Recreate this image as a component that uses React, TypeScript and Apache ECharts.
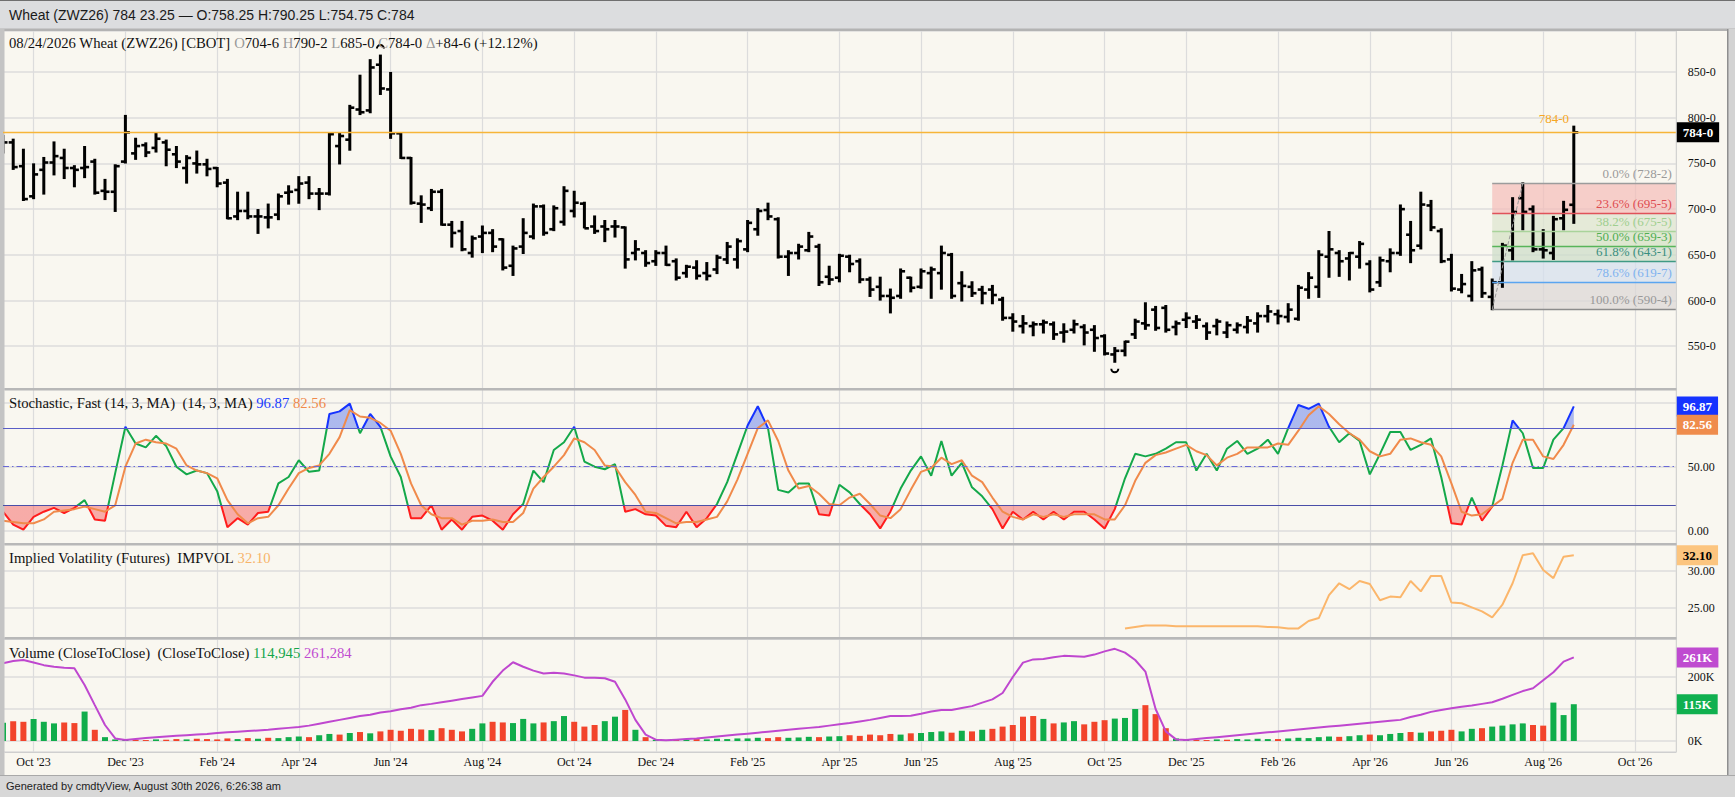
import React, { useEffect, useRef } from "react";
import * as echarts from "echarts";

// ---------- axis / categories ----------
const N_CATS = 165; // weekly slots shown on the axis (data + empty right margin)
const TICK_IDX = [3, 12, 21, 29, 38, 47, 56, 64, 73, 82, 90, 99, 108, 116, 125, 134, 142, 151, 160];
const TICK_LABELS = ["Oct '23", "Dec '23", "Feb '24", "Apr '24", "Jun '24", "Aug '24", "Oct '24", "Dec '24", "Feb '25", "Apr '25", "Jun '25", "Aug '25", "Oct '25", "Dec '25", "Feb '26", "Apr '26", "Jun '26", "Aug '26", "Oct '26"];

// ---------- weekly OHLC ----------
const OPEN = [
  770, 773, 747, 714, 743, 751, 756, 745, 745, 752,
  720, 719, 752, 761, 770, 767, 773, 760, 745, 750,
  749, 745, 729, 692, 698, 692, 691, 694, 718, 721,
  729, 717, 717, 769, 776, 809, 808, 858, 831, 783,
  756, 706, 701, 719, 683, 676, 652, 670, 674, 667,
  638, 659, 670, 703, 678, 686, 698, 706, 681, 681,
  681, 680, 652, 652, 643, 652, 643, 630, 636, 630,
  634, 645, 645, 656, 678, 699, 689, 648, 652, 655,
  659, 626, 625, 648, 643, 623, 615, 605, 605, 625,
  615, 630, 630, 650, 619, 615, 612, 612, 601, 581,
  572, 572, 574, 574, 565, 568, 571, 568, 561, 541,
  545, 563, 575, 590, 592, 571, 579, 577, 572, 572,
  565, 568, 571, 575, 583, 585, 582, 580, 612, 615,
  648, 652, 646, 648, 640, 620, 643, 652, 672, 660,
  704, 676, 645, 612, 605, 634, 604, 620, 655, 712,
  700, 656, 652, 690, 704.75,
];
const HIGH = [
  780, 776, 765, 749, 756, 773, 765, 747, 768, 754,
  732, 748, 802, 777, 772, 783, 775, 768, 758, 763,
  754, 745, 732, 718, 718, 699, 705, 716, 725, 735,
  735, 722, 783, 783, 813, 846, 863, 868, 849, 783,
  756, 714, 721, 721, 686, 686, 670, 681, 677, 667,
  659, 689, 705, 704, 703, 724, 719, 707, 692, 687,
  687, 680, 665, 654, 654, 659, 645, 638, 643, 641,
  649, 663, 667, 687, 700, 706, 690, 654, 661, 674,
  661, 637, 650, 649, 645, 625, 625, 612, 634, 625,
  634, 636, 659, 651, 631, 620, 615, 616, 603, 585,
  583, 576, 578, 576, 574, 578, 573, 572, 562, 548,
  555, 579, 597, 593, 594, 577, 586, 583, 575, 579,
  576, 575, 582, 586, 594, 589, 596, 616, 630, 654,
  675, 654, 652, 664, 643, 647, 656, 704, 686, 718,
  709, 678, 650, 628, 642, 636, 623, 662, 712, 728.25,
  703, 677, 691.5, 708, 790.25,
];
const LOW = [
  762, 744, 710, 712, 717, 738, 734, 725, 735, 717,
  711, 698, 751, 755, 758, 763, 748, 746, 729, 740,
  737, 725, 690, 689, 690, 674, 680, 689, 706, 707,
  712, 700, 716, 750, 765, 804, 806, 826, 778, 756,
  706, 686, 699, 683, 659, 655, 648, 653, 654, 634,
  628, 652, 668, 672, 677, 683, 692, 680, 674, 665,
  670, 636, 645, 638, 639, 639, 623, 626, 624, 623,
  630, 641, 636, 654, 672, 689, 647, 628, 646, 654,
  617, 618, 621, 632, 620, 605, 601, 587, 603, 610,
  614, 603, 613, 603, 600, 605, 597, 597, 579, 567,
  565, 562, 565, 558, 555, 565, 552, 545, 541, 533,
  540, 559, 569, 568, 566, 563, 571, 570, 558, 563,
  560, 565, 565, 566, 577, 575, 577, 579, 603, 604,
  626, 627, 623, 636, 610, 616, 632, 650, 642, 657,
  677, 642, 611, 609, 600, 604, 590.5, 615, 645, 678,
  654, 647, 645.5, 678, 685,
];
const CLOSE = [
  773, 746, 711, 738, 751, 758, 745, 743, 746, 718,
  719, 747, 784, 769, 762, 777, 765, 752, 756, 749,
  744, 728, 690, 698, 692, 692, 691, 714, 719, 728,
  717, 717, 782, 780, 811, 806, 855, 832, 783, 756,
  707, 705, 719, 683, 674, 656, 668, 674, 659, 636,
  657, 674, 703, 674, 701, 720, 707, 679, 676, 678,
  681, 645, 656, 641, 652, 639, 625, 637, 627, 627,
  647, 659, 665, 685, 698, 692, 648, 652, 659, 670,
  620, 623, 649, 640, 623, 612, 605, 603, 632, 614,
  632, 634, 652, 605, 616, 608, 608, 606, 581, 577,
  575, 574, 576, 563, 566, 574, 565, 559, 542, 545,
  555, 577, 573, 570, 568, 575, 581, 579, 565, 577,
  573, 573, 578, 583, 588, 583, 590, 614, 625, 650,
  656, 643, 652, 662, 612, 644, 652, 700, 655, 705,
  680, 643, 613, 618, 633, 608, 620, 660, 697, 697,
  656, 655, 689, 699.25, 784,
];

// ---------- Stochastic fast (14,3,MA) ----------
const STOCH_K = [
  15, 5, 1, 11, 15, 18, 14, 18, 24, 9,
  8, 45, 81, 68, 65, 74, 66, 50, 44, 47,
  45, 31, 3, 10, 5, 14, 15, 37, 42, 55,
  46, 47, 91, 93, 99, 76, 91, 81, 58, 42,
  10, 10, 20, 1, 9, 1, 11, 12, 8, 1,
  13, 21, 47, 38, 63, 69, 81, 54, 50, 48,
  52, 15, 17, 13, 12, 4, 3, 15, 3, 10,
  21, 38, 60, 82, 97, 80, 32, 30, 37, 37,
  13, 12, 36, 30, 21, 13, 2, 15, 33, 47,
  58, 43, 70, 43, 53, 34, 27, 17, 2, 15,
  9, 15, 9, 15, 9, 15, 15, 9, 2, 17,
  41, 60, 58, 60, 64, 69, 69, 47, 60, 47,
  64, 70, 60, 64, 71, 60, 80, 98, 95, 99,
  81, 69, 76, 70, 44, 60, 77, 77, 63, 67,
  72, 42, 6, 5, 26, 8, 19, 51, 86, 76,
  49, 49, 71, 80, 96.87,
];
const STOCH_D = [
  8, 7, 6, 6, 9, 15, 16, 17, 19, 17,
  15, 20, 50, 68, 71, 69, 68, 64, 51, 47,
  45, 41, 24, 13, 6, 10, 11, 20, 33, 45,
  49, 51, 60, 73, 94, 89, 88, 84, 78, 60,
  37, 20, 13, 10, 10, 5, 8, 8, 9, 7,
  7, 14, 33, 42, 50, 59, 72, 69, 63, 51,
  50, 38, 28, 15, 14, 10, 6, 7, 7, 9,
  11, 23, 40, 60, 80, 86, 70, 47, 33, 35,
  29, 21, 20, 26, 29, 21, 12, 10, 17, 32,
  46, 49, 57, 52, 55, 43, 38, 26, 15, 11,
  9, 13, 11, 13, 11, 13, 13, 13, 9, 9,
  20, 39, 53, 59, 61, 64, 67, 62, 59, 51,
  57, 60, 65, 65, 65, 68, 67, 78, 90, 97,
  91, 83, 76, 71, 62, 58, 60, 71, 72, 69,
  67, 58, 37, 15, 12, 13, 19, 25, 53, 71,
  71, 58, 56, 67, 82.56,
];
const STOCH_UPPER = 80;
const STOCH_LOWER = 20;
const STOCH_MID = 50;

// ---------- Implied volatility (starts at week index IV_START) ----------
const IV_START = 110;
const IMPVOL = [
  22.2, 22.4, 22.6, 22.6, 22.6, 22.5, 22.5, 22.5, 22.5, 22.5,
  22.5, 22.5, 22.5, 22.5, 22.4, 22.35, 22.2, 22.2, 23.2, 23.6,
  26.7, 28.3, 27.5, 28.6, 28.2, 26.0, 26.5, 26.4, 28.6, 27.2,
  29.3, 29.3, 25.7, 25.6, 25.05, 24.5, 23.7, 25.4, 28.3, 32.1,
  32.35, 30.1, 29.0, 31.9, 32.1,
];

// ---------- Volume & open interest (thousands) ----------
const VOLUME_K = [
  57, 62, 60, 69, 60, 55, 58, 56, 92, 35,
  12, 5, 3, 4, 3, 5, 4, 6, 5, 7,
  6, 5, 8, 6, 9, 7, 10, 9, 12, 14,
  12, 18, 22, 20, 25, 28, 24, 30, 35, 32,
  38, 36, 34, 40, 35, 30, 38, 55, 60, 58,
  56, 69, 55, 58, 62, 78, 60, 45, 50, 62,
  76, 97, 35, 12, 4, 3, 5, 4, 6, 5,
  7, 6, 8, 8, 10, 9, 12, 10, 11, 13,
  12, 14, 15, 18, 16, 20, 18, 22, 20, 24,
  25, 28, 30, 26, 32, 30, 35, 38, 45, 50,
  76, 78, 69, 55, 58, 62, 52, 60, 65, 70,
  72, 100, 112, 84, 40, 8, 3, 4, 3, 5,
  4, 6, 5, 7, 6, 6, 8, 10, 9, 12,
  14, 13, 15, 18, 20, 18, 22, 25, 28, 26,
  30, 32, 35, 30, 38, 40, 45, 48, 52, 55,
  50, 48, 120, 81, 114.945,
];
const OPEN_INT_K = [
  243, 250, 253, 245, 237, 232, 229, 227, 175, 112,
  50, 8, 3, 6, 9, 12, 14, 16, 18, 20,
  22, 25, 27, 29, 31, 33, 35, 38, 41, 44,
  48, 54, 60, 66, 72, 78, 82, 89, 93, 99,
  104, 112, 116, 121, 126, 131, 136, 141, 185, 220,
  246, 232, 220, 211, 213, 211, 205, 198, 198, 196,
  185, 130, 66, 20, 4, 2, 4, 6, 8, 11,
  14, 17, 20, 23, 26, 29, 32, 35, 38, 41,
  44, 48, 52, 56, 61, 66, 72, 78, 78, 79,
  85, 92, 97, 97, 103, 109, 120, 130, 150, 200,
  245, 255, 256, 262, 266, 265, 263, 270, 280, 288,
  276, 253, 217, 100, 30, 5, 3, 6, 9, 12,
  15, 18, 21, 24, 27, 30, 33, 36, 39, 42,
  45, 48, 51, 54, 57, 60, 63, 66, 75, 82,
  91, 97, 102, 107, 111, 116, 121, 132, 144, 156,
  165, 190, 215, 248, 261.284,
];

// ---------- Fibonacci retracement ----------
const FIB_START_IDX = 146;
const FIB_TOP_IDX = 149;
const FIB_PCT = ["0.0%", "23.6%", "38.2%", "50.0%", "61.8%", "78.6%", "100.0%"];
const FIB_VAL = [728.25, 695.625, 675.625, 659.375, 643.125, 619.875, 590.5];
const FIB_TXT = ["728-2", "695-5", "675-5", "659-3", "643-1", "619-7", "590-4"];
const FIB_LINE_COLOR = ["#9c9c9c", "#e0525a", "#a9d39a", "#58b55a", "#3f9a84", "#5aa5f0", "#8c8c8c"];
const FIB_LABEL_COLOR = ["#9a9a9a", "#dd4b50", "#9fcf8f", "#4fae52", "#3a8f80", "#7fb3ee", "#999999"];
const FIB_ZONE_COLOR = [
  "rgba(244,190,186,0.72)",
  "rgba(221,230,208,0.75)",
  "rgba(212,226,197,0.75)",
  "rgba(205,222,201,0.75)",
  "rgba(214,224,237,0.75)",
  "rgba(220,216,215,0.75)",
];

const LAST_PRICE = 784;

// ---------- styling ----------
const SERIF = '"Liberation Serif", "Times New Roman", Times, serif';
const SANS = '"Liberation Sans", Arial, Helvetica, sans-serif';
const UP = "#10ad4b";
const DOWN = "#f2442b";
const GRID_COLOR = "#dcdcdc";
const LEGEND_SIZE = 14.7;

function fmt8(v: number): string {
  const w = Math.floor(v + 1e-9);
  return `${w}-${Math.round((v - w) * 8)}`;
}

function buildOption(): any {
  const n = OPEN.length;
  const CATS = Array.from({ length: N_CATS }, (_, i) =>
    new Date(Date.UTC(2023, 8, 11 + 7 * i)).toISOString().slice(0, 10)
  );
  const ohlc = OPEN.map((o, i) => [i, o, HIGH[i], LOW[i], CLOSE[i]]);
  const hiIdx = HIGH.indexOf(Math.max(...HIGH));
  const loIdx = LOW.indexOf(Math.min(...LOW));
  const ivData = CATS.map((_, i) => (i >= IV_START && i - IV_START < IMPVOL.length ? IMPVOL[i - IV_START] : null));
  const volData = VOLUME_K.map((v, i) => ({
    value: v,
    itemStyle: { color: (i === 0 ? CLOSE[0] >= OPEN[0] : CLOSE[i] >= CLOSE[i - 1]) ? UP : DOWN },
  }));

  const lastK = STOCH_K[n - 1];
  const lastD = STOCH_D[n - 1];
  const lastIV = IMPVOL[IMPVOL.length - 1];
  const lastVol = VOLUME_K[n - 1];
  const lastOI = OPEN_INT_K[n - 1];
  const chg = CLOSE[n - 1] - CLOSE[n - 2];
  const chgPct = (chg / CLOSE[n - 2]) * 100;

  const GRIDS = [
    { top: 31, height: 358, min: 503.2, max: 894.9, split: 8 },
    { top: 389, height: 155, min: -10.1, max: 110.4, split: 2 },
    { top: 544, height: 94.3, min: 20.86, max: 33.61, split: 3 },
    { top: 638.3, height: 113.7, min: -34.4, max: 320.9, split: 4 },
  ];

  const boxLabel = (text: string, bg: string, fg: string) => ({
    show: true,
    position: "end",
    formatter: text,
    backgroundColor: bg,
    color: fg,
    opacity: 1,
    fontFamily: SERIF,
    fontSize: 13,
    fontWeight: "bold",
    lineHeight: 14,
    padding: [3, 6, 3, 6],
    distance: 1,
  });
  const hiddenLine = { color: "rgba(0,0,0,0)", width: 1, type: "solid" };

  const yLabel = (fmt: (v: number) => string) => ({
    show: true,
    formatter: fmt,
    margin: 12,
    fontFamily: SERIF,
    fontSize: 12,
    color: "#111",
    showMinLabel: false,
    showMaxLabel: false,
  });

  const rs = (color: string, size: number) => ({
    color,
    fontFamily: SERIF,
    fontSize: size,
    fontWeight: "normal",
    lineHeight: 16,
  });
  const rich = (size: number) => ({
    k: rs("#111", size),
    g: rs("#9a9a9a", size),
    b: rs("#1a3dff", size),
    o: rs("#f08a4b", size),
    y: rs("#f7b46a", size),
    gr: rs("#13a54a", size),
    p: rs("#c04ad0", size),
  });
  const legendStyle = (size: number) => ({
    fontFamily: SERIF,
    fontSize: size,
    fontWeight: "normal",
    color: "#111",
    rich: rich(size),
  });

  const mainLegend =
    `{k|08/24/2026 Wheat (ZWZ26) [CBOT] }{g|O}{k|${fmt8(OPEN[n - 1])} }{g|H}{k|${fmt8(HIGH[n - 1])} }` +
    `{g|L}{k|${fmt8(LOW[n - 1])} }{g|C}{k|${fmt8(CLOSE[n - 1])} }{g|\u0394}{k|+${fmt8(chg)} (+${chgPct.toFixed(2)}%)}`;

  const fibAreas = FIB_ZONE_COLOR.map((c, z) => [
    { coord: [FIB_START_IDX, FIB_VAL[z]], itemStyle: { color: c } },
    { coord: [N_CATS - 1, FIB_VAL[z + 1]] },
  ]);
  const fibLines = FIB_VAL.map((v, k) => [
    {
      coord: [FIB_START_IDX, v],
      lineStyle: { color: FIB_LINE_COLOR[k], width: 1.3, type: "solid" },
      label: {
        show: true,
        position: "insideEndTop",
        formatter: `${FIB_PCT[k]} (${FIB_TXT[k]})`,
        color: FIB_LABEL_COLOR[k],
        fontFamily: SERIF,
        fontSize: 13,
        distance: [4, 3],
      },
    },
    { coord: [N_CATS - 1, v] },
  ]);

  const xAxes = [0, 1, 2, 3].map((gi) => ({
    type: "category",
    gridIndex: gi,
    data: CATS,
    boundaryGap: false,
    axisLine: { show: false },
    axisTick: { show: false },
    axisPointer: { show: false },
    axisLabel:
      gi === 3
        ? {
            show: true,
            interval: (idx: number) => TICK_IDX.includes(idx),
            formatter: (_v: string, idx: number) => {
              const p = TICK_IDX.indexOf(idx);
              return p >= 0 ? TICK_LABELS[p] : "";
            },
            fontFamily: SERIF,
            fontSize: 12,
            color: "#111",
            margin: 4,
          }
        : { show: false },
    splitLine: {
      show: true,
      interval: (idx: number) => TICK_IDX.includes(idx),
      lineStyle: { color: GRID_COLOR, width: 1.2 },
    },
  }));

  // labels hidden where the reference's value boxes cover them (100.00, 100K, 300K)
  const fmts = [
    (v: number) => `${v}-0`,
    (v: number) => (v < 99 ? v.toFixed(2) : ""),
    (v: number) => v.toFixed(2),
    (v: number) => (v === 0 || v === 200 ? `${v}K` : ""),
  ];
  const yAxes = GRIDS.map((g, gi) => ({
    type: "value",
    gridIndex: gi,
    position: "right",
    min: g.min,
    max: g.max,
    splitNumber: g.split,
    axisLine: { show: false },
    axisTick: { show: false },
    axisLabel: yLabel(fmts[gi]),
    splitLine: {
      show: true,
      lineStyle: {
        color: gi === 3 ? [GRID_COLOR, GRID_COLOR, GRID_COLOR, GRID_COLOR, "rgba(0,0,0,0)", GRID_COLOR] : GRID_COLOR,
        width: 1.6,
      },
    },
  }));

  const frame: any[] = [
    { type: "rect", z: 5, shape: { x: 0, y: 0, width: 1735, height: 29 }, style: { fill: "#dcdddf" } },
    { type: "rect", z: 5, shape: { x: 0, y: 0, width: 1735, height: 1 }, style: { fill: "#6f6f6f" } },
    { type: "rect", z: 5, shape: { x: 0, y: 28.5, width: 1735, height: 2.5 }, style: { fill: "#b3b3b3" } },
    { type: "rect", z: 5, shape: { x: 0, y: 29, width: 4.5, height: 746 }, style: { fill: "#c4c4c4" } },
    { type: "rect", z: 5, shape: { x: 1727, y: 29, width: 8, height: 746 }, style: { fill: "#d3d3d3" } },
    { type: "rect", z: 5, shape: { x: 1727, y: 29, width: 1.5, height: 746 }, style: { fill: "#8f8f8f" } },
    { type: "rect", z: 5, shape: { x: 1675.8, y: 31, width: 1, height: 721 }, style: { fill: "#cacaca" } },
    { type: "rect", z: 5, shape: { x: 4.5, y: 388, width: 1672, height: 2.5 }, style: { fill: "#b8b8b8" } },
    { type: "rect", z: 5, shape: { x: 4.5, y: 543, width: 1672, height: 2.5 }, style: { fill: "#b8b8b8" } },
    { type: "rect", z: 5, shape: { x: 4.5, y: 637, width: 1672, height: 2.5 }, style: { fill: "#b8b8b8" } },
    { type: "rect", z: 5, shape: { x: 4.5, y: 752, width: 1672, height: 1 }, style: { fill: "#cfcfcf" } },
    { type: "rect", z: 5, shape: { x: 0, y: 775, width: 1735, height: 22 }, style: { fill: "#d8d8d8" } },
    { type: "rect", z: 5, shape: { x: 0, y: 775, width: 1735, height: 1 }, style: { fill: "#a9a9a9" } },
  ];

  return {
    animation: false,
    backgroundColor: "#f9f7f0",
    title: [
      {
        text: "Wheat (ZWZ26) 784 23.25 \u2014 O:758.25 H:790.25 L:754.75 C:784",
        left: 9,
        top: 7,
        padding: 0,
        z: 10,
        textStyle: { fontFamily: SANS, fontSize: 14, fontWeight: "normal", color: "#1a1a1a", lineHeight: 16 },
      },
      { text: mainLegend, left: 9, top: 35, padding: 0, z: 10, textStyle: legendStyle(LEGEND_SIZE) },
      {
        text: `{k|Stochastic, Fast (14, 3, MA)  (14, 3, MA) }{b|${lastK.toFixed(2)}} {o|${lastD.toFixed(2)}}`,
        left: 9,
        top: 395,
        padding: 0,
        z: 10,
        textStyle: legendStyle(LEGEND_SIZE),
      },
      {
        text: `{k|Implied Volatility (Futures)  IMPVOL }{y|${lastIV.toFixed(2)}}`,
        left: 9,
        top: 550,
        padding: 0,
        z: 10,
        textStyle: legendStyle(LEGEND_SIZE),
      },
      {
        text: `{k|Volume (CloseToClose)  (CloseToClose) }{gr|${Math.round(lastVol * 1000).toLocaleString("en-US")}} {p|${Math.round(lastOI * 1000).toLocaleString("en-US")}}`,
        left: 9,
        top: 645,
        padding: 0,
        z: 10,
        textStyle: legendStyle(LEGEND_SIZE),
      },
      {
        text: "Generated by cmdtyView, August 30th 2026, 6:26:38 am",
        left: 6,
        top: 780,
        padding: 0,
        z: 10,
        textStyle: { fontFamily: SANS, fontSize: 11, fontWeight: "normal", color: "#222", lineHeight: 12 },
      },
    ],
    graphic: { elements: frame },
    grid: GRIDS.map((g) => ({ left: 3, width: 1672.8, top: g.top, height: g.height })),
    xAxis: xAxes,
    yAxis: yAxes,
    visualMap: [
      {
        type: "piecewise",
        show: false,
        seriesIndex: 3,
        dimension: 1,
        pieces: [
          { lt: STOCH_LOWER, color: "#ff1c1c" },
          { gte: STOCH_LOWER, lte: STOCH_UPPER, color: "#14a84a" },
          { gt: STOCH_UPPER, color: "#1533ff" },
        ],
      },
      {
        type: "piecewise",
        show: false,
        seriesIndex: 2,
        dimension: 1,
        pieces: [
          { lt: STOCH_LOWER, color: "rgba(245,90,90,0.48)" },
          { gte: STOCH_LOWER, lte: STOCH_UPPER, color: "rgba(0,0,0,0)" },
          { gt: STOCH_UPPER, color: "rgba(80,110,235,0.45)" },
        ],
      },
    ],
    series: [
      // 0: overlay carrier for price annotations
      {
        type: "line",
        xAxisIndex: 0,
        yAxisIndex: 0,
        data: CLOSE,
        symbol: "none",
        silent: true,
        lineStyle: { opacity: 0, width: 0 },
        markArea: { silent: true, data: fibAreas },
        markLine: {
          silent: true,
          symbol: ["none", "none"],
          data: [
            ...fibLines,
            [
              { coord: [FIB_START_IDX, FIB_VAL[FIB_VAL.length - 1]], lineStyle: { color: "#9a9a9a", width: 1, type: "dashed" }, label: { show: false } },
              { coord: [FIB_TOP_IDX, FIB_VAL[0]] },
            ],
            {
              yAxis: LAST_PRICE,
              lineStyle: { color: "#f7b538", width: 1.3, type: "solid" },
              label: boxLabel(fmt8(LAST_PRICE), "#000000", "#ffffff"),
            },
          ],
        },
        markPoint: {
          silent: true,
          symbol: "circle",
          symbolSize: 1,
          itemStyle: { color: "rgba(0,0,0,0)" },
          data: [
            {
              coord: [n - 1, HIGH[n - 1]],
              label: {
                show: true,
                position: "top",
                formatter: fmt8(CLOSE[n - 1]),
                color: "#f6a623",
                fontFamily: SERIF,
                fontSize: 13,
                offset: [-20, 4],
              },
            },
          ],
        },
      },
      // 1: OHLC bars
      {
        type: "custom",
        xAxisIndex: 0,
        yAxisIndex: 0,
        data: ohlc,
        encode: { x: 0, y: [1, 2, 3, 4] },
        clip: true,
        silent: true,
        renderItem: (params: any, api: any) => {
          const i = api.value(0);
          const ph = api.coord([i, api.value(2)]);
          const pl = api.coord([i, api.value(3)]);
          const po = api.coord([i, api.value(1)]);
          const pc = api.coord([i, api.value(4)]);
          const x = ph[0];
          const s = { stroke: "#000", lineWidth: 3 };
          const t = { stroke: "#000", lineWidth: 2.6 };
          const children: any[] = [
            { type: "line", shape: { x1: x, y1: ph[1] - 1, x2: x, y2: pl[1] + 1 }, style: s },
            { type: "line", shape: { x1: x - 4.5, y1: po[1], x2: x, y2: po[1] }, style: t },
            { type: "line", shape: { x1: x, y1: pc[1], x2: x + 4.5, y2: pc[1] }, style: t },
          ];
          if (params.dataIndex === hiIdx) {
            children.push({
              type: "arc",
              shape: { cx: x, cy: ph[1] - 7, r: 3.5, startAngle: Math.PI, endAngle: 2 * Math.PI },
              style: { stroke: "#000", lineWidth: 2, fill: "none" },
            });
          }
          if (params.dataIndex === loIdx) {
            children.push({
              type: "arc",
              shape: { cx: x, cy: pl[1] + 7, r: 3.5, startAngle: 0, endAngle: Math.PI },
              style: { stroke: "#000", lineWidth: 2, fill: "none" },
            });
          }
          return { type: "group", children };
        },
      },
      // 2: stochastic fill (blue above 80 / red below 20)
      {
        type: "line",
        xAxisIndex: 1,
        yAxisIndex: 1,
        data: STOCH_K,
        symbol: "none",
        silent: true,
        lineStyle: { width: 0, opacity: 0 },
        areaStyle: { origin: STOCH_MID, opacity: 1 },
      },
      // 3: %K
      {
        type: "line",
        xAxisIndex: 1,
        yAxisIndex: 1,
        data: STOCH_K,
        symbol: "none",
        silent: true,
        lineStyle: { width: 2 },
      },
      // 4: %D
      {
        type: "line",
        xAxisIndex: 1,
        yAxisIndex: 1,
        data: STOCH_D,
        symbol: "none",
        silent: true,
        itemStyle: { color: "#f08a4b" },
        lineStyle: { width: 2, color: "#f08a4b" },
        markLine: {
          silent: true,
          symbol: ["none", "none"],
          data: [
            { yAxis: STOCH_UPPER, lineStyle: { color: "#5a5ec6", width: 1.2, type: "solid" }, label: { show: false } },
            { yAxis: STOCH_LOWER, lineStyle: { color: "#4a4ea8", width: 1.2, type: "solid" }, label: { show: false } },
            { yAxis: STOCH_MID, lineStyle: { color: "#6a6ad6", width: 1.1, type: [6, 3, 1.5, 3] }, label: { show: false } },
            { yAxis: lastK, lineStyle: hiddenLine, label: boxLabel(lastK.toFixed(2), "#1533ff", "#ffffff") },
            { yAxis: lastD, lineStyle: hiddenLine, label: boxLabel(lastD.toFixed(2), "#ef8c4c", "#ffffff") },
          ],
        },
      },
      // 5: implied volatility
      {
        type: "line",
        xAxisIndex: 2,
        yAxisIndex: 2,
        data: ivData,
        symbol: "none",
        silent: true,
        connectNulls: false,
        itemStyle: { color: "#fbb66b" },
        lineStyle: { width: 2, color: "#fbb66b" },
        markLine: {
          silent: true,
          symbol: ["none", "none"],
          data: [{ yAxis: lastIV, lineStyle: hiddenLine, label: boxLabel(lastIV.toFixed(2), "#fcc57f", "#000000") }],
        },
      },
      // 6: volume
      {
        type: "bar",
        xAxisIndex: 3,
        yAxisIndex: 3,
        data: volData,
        barWidth: 6,
        silent: true,
        markLine: {
          silent: true,
          symbol: ["none", "none"],
          data: [{ yAxis: lastVol, lineStyle: hiddenLine, label: boxLabel(`${Math.round(lastVol)}K`, "#10b04f", "#ffffff") }],
        },
      },
      // 7: open interest
      {
        type: "line",
        xAxisIndex: 3,
        yAxisIndex: 3,
        data: OPEN_INT_K,
        symbol: "none",
        silent: true,
        itemStyle: { color: "#bf47cf" },
        lineStyle: { width: 2, color: "#bf47cf" },
        markLine: {
          silent: true,
          symbol: ["none", "none"],
          data: [{ yAxis: lastOI, lineStyle: hiddenLine, label: boxLabel(`${Math.round(lastOI)}K`, "#bf4bd0", "#ffffff") }],
        },
      },
    ],
  };
}

export default function App() {
  const ref = useRef<HTMLDivElement>(null);
  useEffect(() => {
    if (!ref.current) return;
    const chart = echarts.init(ref.current, null, { renderer: "svg" });
    chart.setOption(buildOption());
    return () => chart.dispose();
  }, []);
  return <div ref={ref} style={{ position: "fixed", left: 0, top: 0, width: 1735, height: 797 }} />;
}
